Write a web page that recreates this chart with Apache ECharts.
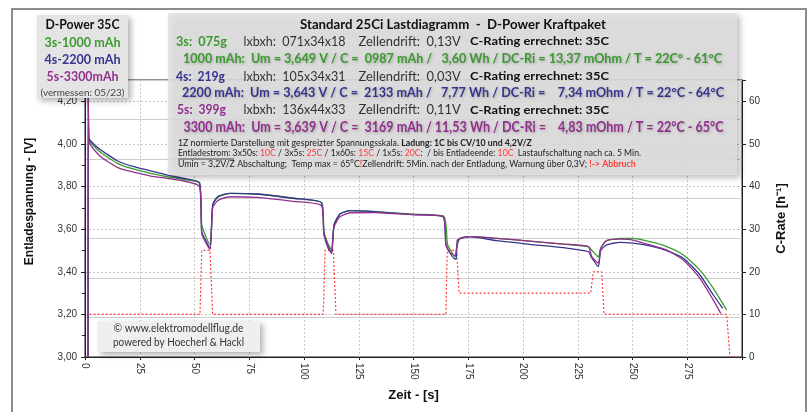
<!DOCTYPE html>
<html>
<head>
<meta charset="utf-8">
<script src="https://cdn.jsdelivr.net/npm/echarts@6/dist/echarts.min.js"></script>
<style>
  html, body { margin: 0; background: #fff; }
  #chart { width: 809px; height: 412px; }
</style>
</head>
<body>
<div id="chart"></div>
<script>
// Entladespannung pro Zelle, [Zeit s, Spannung V]
var pack3s = [[1.4,3.00],[1.5,4.24],[1.8,4.02],[4,3.99],[7.2,3.96],[10,3.94],[14.8,3.909],[18,3.895],[22.4,3.882],[30,3.862],[37.6,3.846],[45.2,3.834],[52.3,3.815],
  [53.3,3.62],[55,3.57],[57.1,3.525],[58.3,3.71],[60,3.745],[61.6,3.755],[66.2,3.768],[78.4,3.765],[95,3.745],[108.2,3.722],
  [109.1,3.59],[111,3.53],[112.6,3.502],[113.7,3.62],[116.4,3.671],[121,3.687],[131.6,3.683],[150,3.67],[163.8,3.66],
  [165.5,3.53],[167,3.50],[169,3.47],[169.8,3.52],[171.2,3.557],[175.8,3.565],[188,3.557],[203,3.544],[218.4,3.53],[229.8,3.518],
  [231.5,3.50],[234.4,3.47],[235.5,3.51],[238.2,3.546],[244.3,3.557],[250.2,3.557],[258,3.541],[265.6,3.518],[273.2,3.479],[280.8,3.408],[286.9,3.322],[293,3.22]];

var pack4s = [[1.4,3.00],[1.5,4.25],[1.8,4.026],[4,4.0],[7.2,3.971],[10,3.952],[14.8,3.921],[18,3.907],[22.4,3.893],[30,3.873],[37.6,3.854],[45.2,3.838],[52.3,3.818],
  [53.3,3.588],[55,3.55],[57.1,3.508],[58.3,3.713],[60,3.745],[61.6,3.757],[66.2,3.768],[78.4,3.765],[95,3.745],[108,3.724],
  [109.1,3.58],[111,3.52],[112.6,3.487],[113.7,3.619],[116.4,3.671],[121,3.687],[131.6,3.682],[150,3.668],[163.5,3.658],
  [164.8,3.526],[166.7,3.487],[169,3.46],[169.5,3.46],[170,3.549],[171.2,3.556],[175.8,3.565],[188,3.546],[203,3.529],[218.4,3.513],[229.8,3.494],
  [231.4,3.465],[234.4,3.424],[235.5,3.50],[238.2,3.526],[244.3,3.538],[250.2,3.534],[258,3.521],[265.6,3.499],[273.2,3.463],[280.8,3.385],[286.9,3.291],[291.2,3.228]];

var pack5s = [[1.4,3.00],[1.5,4.26],[1.8,4.01],[4,3.975],[7.2,3.94],[10,3.92],[14.8,3.89],[18,3.878],[22.4,3.867],[30,3.849],[37.6,3.838],[45.2,3.826],[52.3,3.80],
  [53.3,3.58],[55,3.54],[57.1,3.505],[58.3,3.70],[60,3.728],[61.6,3.74],[66.2,3.752],[78.4,3.749],[95,3.73],[108,3.71],
  [109.1,3.575],[111,3.51],[112.6,3.487],[113.7,3.61],[116.4,3.658],[121,3.677],[131.6,3.678],[150,3.668],[163.5,3.66],
  [164.8,3.53],[166.7,3.49],[169,3.475],[170,3.53],[171.2,3.555],[175.8,3.565],[188,3.557],[203,3.544],[218.4,3.53],[229.8,3.518],
  [231.4,3.471],[234.4,3.44],[235.5,3.51],[238.2,3.546],[244.3,3.553],[250.2,3.549],[258,3.526],[265.6,3.502],[273.2,3.455],[280.8,3.369],[286.9,3.267],[290.3,3.205]];

// Entladestrom als C-Rate, [Zeit s, C]
var cRate = [[1.2,0],[1.5,10],[52.5,10],[53.3,25],[57.1,25],[58.3,10],[108.8,10],[109.6,25],[113.4,25],[114.6,10],
  [164.8,10],[165.4,25],[169.7,25],[170.8,15],[230.9,15],[232.1,20],[235.9,20],[237,10],[293,10],[294.5,0],[300,0]];

var GREEN = '#3c9a30', BLUE = '#35358f', PURPLE = '#93308f', RED = '#ff3b3b';
var SANS = 'Lato, "Open Sans", sans-serif';
var ARIAL = '"Liberation Sans", Arial, sans-serif';

var chart = echarts.init(document.getElementById('chart'));

// Texte per scaleX auf die Breite im Original bringen
var mctx = document.createElement('canvas').getContext('2d');
function plain(s) { return s.replace(/\{\w+\|([^}]*)\}/g, '$1'); }
function txt(x, y, s, font, color, width, align, more) {
    var el = {
        type: 'text', x: x, y: y, z: 110, silent: true,
        style: { text: s, font: font, fill: color, align: align || 'left', verticalAlign: 'middle' }
    };
    if (width) {
        mctx.font = font;
        el.scaleX = width / mctx.measureText(plain(s)).width;
    }
    if (more) {
        for (var k in more) el.style[k] = more[k];
    }
    return el;
}
function box(x, y, w, h, fill) {
    return {
        type: 'rect', z: 100, silent: true,
        shape: { x: x, y: y, width: w, height: h },
        style: { fill: fill, shadowBlur: 6, shadowOffsetX: 3, shadowOffsetY: 3, shadowColor: 'rgba(0,0,0,0.3)' }
    };
}

var glow = { textShadowColor: 'rgba(0,0,0,0.25)', textShadowBlur: 3, textShadowOffsetX: 1, textShadowOffsetY: 1 };
var small = '9px ' + SANS, smallB = 'bold 9px ' + SANS;
var smallRich = {
    b: { font: smallB, fill: '#222' },
    r: { font: small, fill: RED },
    rb: { font: smallB, fill: RED }
};

var graphics = [
    { type: 'rect', z: 0, silent: true, shape: { x: 12, y: 9, width: 794, height: 420 },
      style: { fill: 'none', stroke: '#8c8c8c', lineWidth: 2 } },

    // Legende links oben
    box(37, 15, 91, 83, '#e4e4e4'),
    txt(82.5, 25, 'D-Power 35C', 'bold 13px ' + SANS, '#111', 74, 'center'),
    txt(82.5, 43, '3s-1000 mAh', 'bold 13px ' + SANS, GREEN, 76, 'center'),
    txt(82.5, 60, '4s-2200 mAh', 'bold 13px ' + SANS, BLUE, 76, 'center'),
    txt(82.5, 77, '5s-3300mAh', 'bold 13px ' + SANS, PURPLE, 72, 'center'),
    txt(82.5, 93.5, '(vermessen: 05/23)', '9px ' + SANS, '#444', 84, 'center'),

    // Kasten mit Messwerten
    box(168, 13, 569, 162, 'rgba(224,224,224,0.85)'),
    txt(453, 25, 'Standard 25Ci Lastdiagramm  -  D-Power Kraftpaket', 'bold 13px ' + SANS, '#111', 306, 'center'),

    txt(176, 41.5, '3s:  075g', 'bold 13px ' + SANS, GREEN, 51),
    txt(243.5, 41.5, 'lxbxh:  071x34x18', '13px ' + SANS, '#333', 102),
    txt(358.6, 41.5, 'Zellendrift:  0,13V', '13px ' + SANS, '#333', 102),
    txt(470, 41.5, 'C-Rating errechnet: 35C', 'bold 12px ' + SANS, '#111', 139),
    txt(183, 58.5, '1000 mAh:  Um = 3,649 V / C =  0987 mAh /   3,60 Wh / DC-Ri = 13,37 mOhm / T = 22C\u00b0 - 61\u00b0C',
        'bold 13px ' + SANS, GREEN, 539, 'left', glow),

    txt(176, 76.5, '4s:  219g', 'bold 13px ' + SANS, BLUE, 49),
    txt(243.5, 76.5, 'lxbxh:  105x34x31', '13px ' + SANS, '#333', 102),
    txt(358.6, 76.5, 'Zellendrift:  0,03V', '13px ' + SANS, '#333', 102),
    txt(470, 76.5, 'C-Rating errechnet: 35C', 'bold 12px ' + SANS, '#111', 139),
    txt(182, 92.5, '2200 mAh:  Um = 3,643 V / C =  2133 mAh /   7,77 Wh / DC-Ri =    7,34 mOhm / T = 22\u00b0C - 64\u00b0C',
        'bold 13px ' + SANS, BLUE, 542, 'left', glow),

    txt(177, 110, '5s:  399g', 'bold 13px ' + SANS, PURPLE, 49),
    txt(243.5, 110, 'lxbxh:  136x44x33', '13px ' + SANS, '#333', 102),
    txt(358.6, 110, 'Zellendrift:  0,11V', '13px ' + SANS, '#333', 102),
    txt(470, 110, 'C-Rating errechnet: 35C', 'bold 12px ' + SANS, '#111', 139),
    txt(183.5, 127, '3300 mAh:  Um = 3,639 V / C =  3169 mAh / 11,53 Wh / DC-Ri =    4,83 mOhm / T = 22\u00b0C - 65\u00b0C',
        'bold 14.5px ' + SANS, PURPLE, 540, 'left', glow),

    txt(178, 143, '1Z normierte Darstellung mit gespreizter Spannungsskala. {b|Ladung: 1C bis CV/10 und 4,2V/Z}',
        small, '#222', 353, 'left', { rich: smallRich }),
    txt(178, 153.5, 'Entladestrom: 3x50s: {r|10C} / 3x5s: {r|25C} / 1x60s: {r|15C} / 1x5s: {r|20C}:  / bis Entladeende: {r|10C}  Lastaufschaltung nach ca. 5 Min.',
        small, '#222', 463, 'left', { rich: smallRich }),
    { type: 'line', z: 110, silent: true, shape: { x1: 178, y1: 159, x2: 234, y2: 159 }, style: { stroke: '#222', lineWidth: 0.8 } },
    txt(178, 164, 'Umin = 3,2V/Z Abschaltung;  Temp max = 65\u00b0C{rb|!}Zellendrift: 5Min. nach der Entladung, Warnung \u00fcber 0,3V; {rb|!-> Abbruch}',
        small, '#222', 457, 'left', { rich: smallRich }),

    // Quellenangabe
    box(98, 321, 162, 31, '#efefef'),
    txt(178.5, 328, '\u00a9 www.elektromodellflug.de', '11px ' + SANS, '#333', 130, 'center'),
    txt(178.5, 342, 'powered by Hoecherl & Hackl', '11px ' + SANS, '#333', 131, 'center'),

    // Achsentitel links
    {
        type: 'text', x: 30, y: 201.5, rotation: Math.PI / 2, z: 50, silent: true,
        style: { text: 'Entladespannung - [V]', font: 'bold 12px ' + ARIAL, fill: '#111', align: 'center', verticalAlign: 'middle' }
    }
];

chart.setOption({
    animation: false,
    backgroundColor: '#fff',
    grid: { left: 85, right: 67, top: 80, bottom: 55, show: true, borderColor: '#222', borderWidth: 1, backgroundColor: '#fff' },
    graphic: graphics,
    xAxis: {
        type: 'value', min: 0, max: 300, interval: 25,
        name: 'Zeit - [s]', nameLocation: 'middle', nameGap: 32,
        nameTextStyle: { fontFamily: ARIAL, fontWeight: 'bold', fontSize: 13, color: '#111' },
        axisLine: { lineStyle: { color: '#222' } },
        axisTick: { length: 3, lineStyle: { color: '#222' } },
        axisLabel: {
            rotate: -90, margin: 6, fontFamily: ARIAL, fontSize: 10, color: '#333',
            formatter: function (v) { return v >= 300 ? '' : v; }
        },
        splitLine: { show: true, lineStyle: { color: '#c8c8c8', type: [2, 2] } }
    },
    yAxis: [
        {
            type: 'value', min: 3.0, max: 4.3, interval: 0.2,
            axisLine: { show: true, lineStyle: { color: '#222' } },
            axisTick: { show: true, length: 4, lineStyle: { color: '#222' } },
            minorTick: { show: true, splitNumber: 2, length: 3, lineStyle: { color: '#222' } },
            axisLabel: {
                margin: 8, fontFamily: ARIAL, fontSize: 10, color: '#333',
                formatter: function (v) { return v > 4.25 ? '' : v.toFixed(2).replace('.', ','); }
            },
            splitLine: { show: true, lineStyle: { color: '#c8c8c8', type: [2, 2] } }
        },
        {
            type: 'value', min: 0, max: 65, interval: 10, position: 'right',
            name: 'C-Rate [h\u207b\u00b9]', nameLocation: 'middle', nameRotate: 90, nameGap: 33,
            nameTextStyle: { fontFamily: ARIAL, fontWeight: 'bold', fontSize: 13, color: '#111' },
            axisLine: { show: true, lineStyle: { color: '#222' } },
            axisTick: { show: true, length: 4, lineStyle: { color: '#222' } },
            axisLabel: {
                margin: 7, fontFamily: ARIAL, fontSize: 10, color: '#333',
                formatter: function (v) { return v > 60 ? '' : v; }
            },
            splitLine: { show: false }
        },
        {
            // nur fuer die durchgezogenen Zwischenlinien
            type: 'value', min: -5, max: 65, interval: 10, position: 'right',
            axisLine: { show: false }, axisTick: { show: false }, axisLabel: { show: false },
            splitLine: { show: true, lineStyle: { color: '#cdcdcd', width: 1.2 } }
        }
    ],
    series: [
        {
            name: 'C-Rate', type: 'line', yAxisIndex: 1, data: cRate, showSymbol: false,
            lineStyle: { color: RED, width: 1.2, type: [2, 2] }
        },
        {
            name: '3s-1000 mAh', type: 'line', data: pack3s, showSymbol: false, smooth: 0.2,
            lineStyle: { color: GREEN, width: 1.3 }
        },
        {
            name: '4s-2200 mAh', type: 'line', data: pack4s, showSymbol: false, smooth: 0.2,
            lineStyle: { color: BLUE, width: 1.3 }
        },
        {
            name: '5s-3300mAh', type: 'line', data: pack5s, showSymbol: false, smooth: 0.2,
            lineStyle: { color: PURPLE, width: 1.3 }
        }
    ]
});
</script>
</body>
</html>
